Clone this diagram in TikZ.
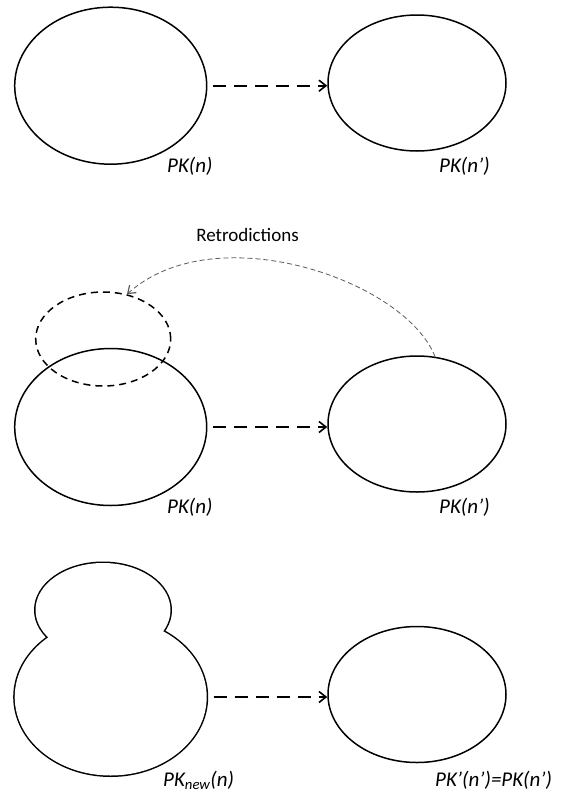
\documentclass[tikz,border=0pt]{standalone}
\usepackage{fontspec}
\setmainfont{Carlito}
\usetikzlibrary{arrows.meta,shapes.geometric,calc}
\tikzset{
  bigell/.style={ellipse,draw,line width=1.5pt,inner sep=0pt,minimum width=192pt,minimum height=157pt},
  rightell/.style={ellipse,draw,line width=1.5pt,inner sep=0pt,minimum width=178pt,minimum height=136pt},
  smallell/.style={ellipse,draw,inner sep=0pt,minimum width=135pt,minimum height=94pt},
  flow/.style={line width=1.6pt,dash pattern=on 13pt off 8pt,-{Straight Barb[length=7pt,width=11pt]},shorten <=5.5pt},
  retro/.style={line width=0.8pt,draw=black!65,dash pattern=on 5pt off 3pt,-{Straight Barb[length=7pt,width=10pt,line width=1.2pt]}},
  lab/.style={anchor=base west,inner sep=0pt,font=\fontsize{21}{25}\selectfont\itshape},
  note/.style={anchor=base,inner sep=0pt,font=\fontsize{19}{23}\selectfont}
}
\begin{document}
\begin{tikzpicture}[x=1pt,y=-1pt]
\useasboundingbox (0,0) rectangle (566,793);
% top row
\node[bigell] (L1) at (110.7,85.7) {};
\node[rightell] (R1) at (417,83) {};
\draw[flow] (L1.east) -- (L1.east -| R1.west);
\node[lab] (l1) at (167,172) {PK(n)};
\node[lab] (r1) at (439,172) {PK(n’)};
% middle row
\node[bigell] (L2) at (110.7,427) {};
\node[smallell,line width=1.5pt,dash pattern=on 7pt off 5pt] (D2) at (103.2,339) {};
\node[rightell] (R2) at (417,424) {};
\draw[flow] (L2.east) -- (L2.east -| R2.west);
\draw[retro] (R2.75) .. controls (405,280) and (215,215) .. (D2.62);
\node[note] (rt) at (247.5,241) {Retrodictions};
\node[lab] (l2) at (167,513) {PK(n)};
\node[lab] (r2) at (439,513) {PK(n’)};
% bottom row
\node[bigell,line width=3pt] (L3) at (110.7,697) {};
\node[smallell,line width=3pt] (T3) at (103,610) {};
\fill[white] (L3.center) ellipse [x radius=96pt,y radius=78.5pt];
\fill[white] (T3.center) ellipse [x radius=67.5pt,y radius=47pt];
\node[rightell] (R3) at (417,694.5) {};
\draw[flow] (L3.east) -- (L3.east -| R3.west);
\node[lab] (l3) at (163,786) {PK\textsubscript{new}(n)};
\node[lab] (r3) at (435,786) {PK’(n’)=PK(n’)};
\end{tikzpicture}
\end{document}
